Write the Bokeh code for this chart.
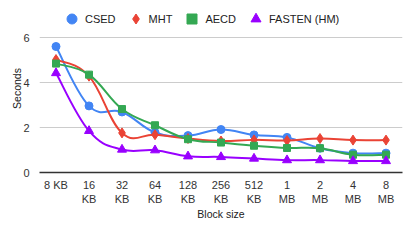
from bokeh.plotting import figure
from bokeh.models import Range1d, FixedTicker, Legend, LegendItem
from bokeh.embed import file_html
from bokeh.resources import INLINE

blocks = ["8 KB", "16\nKB", "32\nKB", "64\nKB", "128\nKB", "256\nKB", "512\nKB", "1\nMB", "2\nMB", "4\nMB", "8\nMB"]
csed = [5.6, 2.96, 2.69, 1.78, 1.64, 1.91, 1.67, 1.56, 1.08, 0.86, 0.86]
mht = [5.02, 4.28, 1.76, 1.68, 1.51, 1.40, 1.45, 1.42, 1.51, 1.44, 1.44]
aecd = [4.84, 4.35, 2.82, 2.10, 1.48, 1.33, 1.19, 1.09, 1.08, 0.79, 0.79]
fasten = [4.42, 1.85, 1.02, 0.99, 0.72, 0.69, 0.62, 0.55, 0.55, 0.51, 0.51]
series_names = ["CSED", "MHT", "AECD", "FASTEN (HM)"]
y_ticks = [0, 2, 4, 6]

colors = ["#4285F4", "#EA4335", "#34A853", "#9900FF"]
markers = ["circle", "diamond", "square", "triangle"]
sizes = [8, 10, 7, 9]

FONT = "Liberation Sans"
xs = list(range(len(blocks)))

PX_PER_UNIT = 135 / 6
EXTRA_PX = 33
FRAME_H = 135 + EXTRA_PX
p = figure(frame_width=363, frame_height=FRAME_H, output_backend="svg", toolbar_location=None,
           x_range=Range1d(-0.5, len(blocks) - 0.5),
           y_range=Range1d(0, max(y_ticks) + EXTRA_PX / PX_PER_UNIT),
           min_border_left=39, min_border_right=5, min_border_top=4, min_border_bottom=0)
p.outline_line_color = None
p.background_fill_color = "white"
p.border_fill_color = "white"

p.yaxis.ticker = FixedTicker(ticks=y_ticks)
p.xaxis.ticker = FixedTicker(ticks=xs)
p.xaxis.major_label_overrides = {i: b for i, b in enumerate(blocks)}
for ax in (p.xaxis[0], p.yaxis[0]):
    ax.major_tick_line_color = None
    ax.minor_tick_line_color = None
    ax.major_label_text_font = FONT
    ax.major_label_text_font_size = "11px"
    ax.major_label_text_color = "#333333"
    ax.axis_label_text_font = FONT
    ax.axis_label_text_font_size = "10.5px"
    ax.axis_label_text_font_style = "normal"
    ax.axis_label_text_color = "#222222"
p.yaxis.axis_line_color = None
p.xaxis.axis_line_color = "#333333"
p.xaxis.axis_line_width = 1.5
p.xaxis.axis_label = "Block size"
p.yaxis.axis_label = "Seconds"
p.xaxis.major_label_standoff = 0
p.xaxis.axis_label_standoff = 0
p.yaxis.major_label_standoff = 4
p.yaxis.axis_label_standoff = -3
p.xgrid.grid_line_color = None
p.ygrid.grid_line_color = "#cccccc"

T = 0.2
items = []
for name, vals, c, m, s in zip(series_names, [csed, mht, aecd, fasten], colors, markers, sizes):
    n = len(vals)
    x0, y0, x1, y1, cx0, cy0, cx1, cy1 = [], [], [], [], [], [], [], []
    for i in range(n - 1):
        ip = max(i - 1, 0)
        inn = min(i + 2, n - 1)
        x0.append(xs[i]); y0.append(vals[i])
        x1.append(xs[i + 1]); y1.append(vals[i + 1])
        cx0.append(xs[i] + (xs[i + 1] - xs[ip]) * T)
        cy0.append(vals[i] + (vals[i + 1] - vals[ip]) * T)
        cx1.append(xs[i + 1] - (xs[inn] - xs[i]) * T)
        cy1.append(vals[i + 1] - (vals[inn] - vals[i]) * T)
    p.bezier(x0=x0, y0=y0, x1=x1, y1=y1, cx0=cx0, cy0=cy0, cx1=cx1, cy1=cy1,
             line_color=c, line_width=2)
    r = p.scatter(xs, vals, marker=m, size=s, fill_color=c, line_color=c)
    items.append(LegendItem(label=name, renderers=[r]))

GLYPH = 25
legend = Legend(items=items, orientation="horizontal",
                location=(20, FRAME_H - 2 - GLYPH),
                label_text_font=FONT, label_text_font_size="11px",
                label_text_color="#222222", border_line_color=None,
                background_fill_alpha=0, glyph_width=GLYPH, glyph_height=GLYPH,
                label_standoff=1, spacing=7, padding=0, margin=0)
p.add_layout(legend, "center")

open("out.html", "w").write(file_html(p, INLINE))
